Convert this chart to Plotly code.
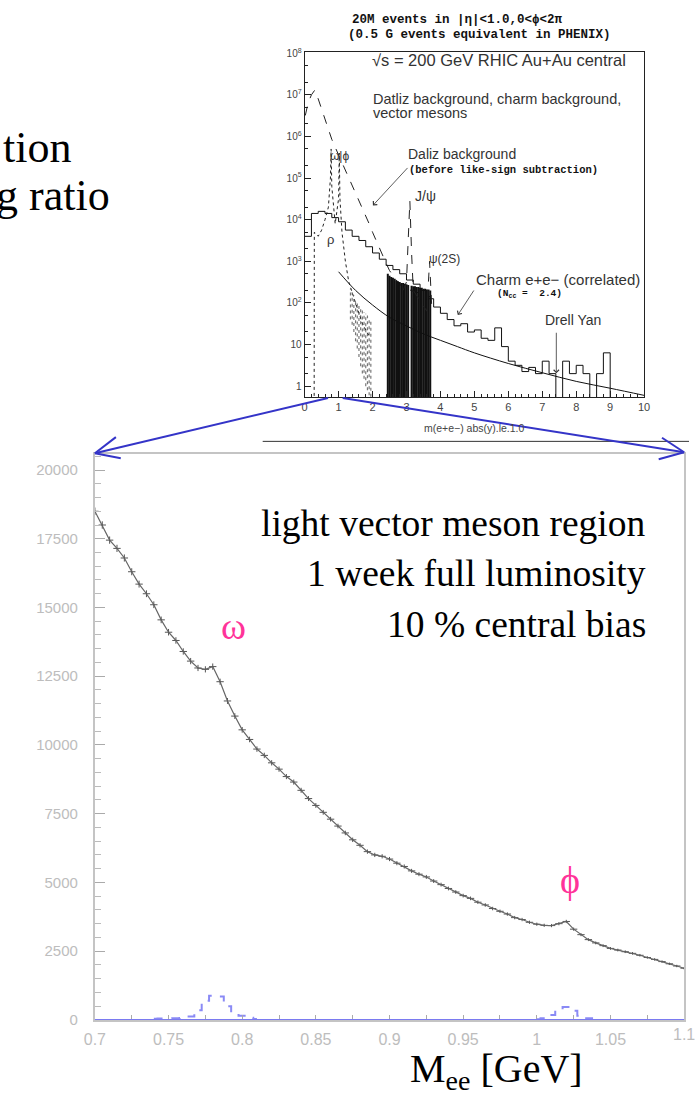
import math
import plotly.graph_objects as go

W, H = 695, 1097
def px(x): return x / W
def py(y): return 1 - y / H

# ---------------- main panel data (light vector meson region) ----------------
mass = [0.700, 0.705, 0.710, 0.715, 0.720, 0.725, 0.730, 0.735, 0.740, 0.745,
        0.750, 0.755, 0.760, 0.765, 0.770, 0.775, 0.780, 0.785, 0.790, 0.795,
        0.800, 0.805, 0.810, 0.815, 0.820, 0.825, 0.830, 0.835, 0.840, 0.845,
        0.850, 0.855, 0.860, 0.865, 0.870, 0.875, 0.880, 0.885, 0.890, 0.895,
        0.900, 0.905, 0.910, 0.915, 0.920, 0.925, 0.930, 0.935, 0.940, 0.945,
        0.950, 0.955, 0.960, 0.965, 0.970, 0.975, 0.980, 0.985, 0.990, 0.995,
        1.000, 1.005, 1.010, 1.015, 1.020, 1.025, 1.030, 1.035, 1.040, 1.045,
        1.050, 1.055, 1.060, 1.065, 1.070, 1.075, 1.080, 1.085, 1.090, 1.095, 1.100]
counts = [18500, 18000, 17450, 17150, 16800, 16300, 15850, 15500, 15100, 14550,
          14100, 13800, 13400, 13050, 12800, 12750, 12850, 12300, 11600, 11050,
          10550, 10200, 9850, 9620, 9350, 9120, 8850, 8650, 8350, 8050,
          7800, 7550, 7300, 7050, 6800, 6550, 6350, 6120, 6000, 5950,
          5850, 5700, 5580, 5420, 5300, 5200, 5050, 4920, 4780, 4650,
          4520, 4420, 4280, 4180, 4050, 3950, 3850, 3720, 3650, 3550,
          3480, 3440, 3430, 3500, 3580, 3300, 3100, 2920, 2800, 2700,
          2600, 2540, 2480, 2420, 2350, 2270, 2200, 2120, 2040, 1960, 1880]

omega_x = [0.740, 0.745, 0.750, 0.755, 0.760, 0.765, 0.770, 0.775, 0.780,
           0.785, 0.790, 0.795, 0.800, 0.805, 0.810]
omega_y = [40, 50, 50, 60, 70, 120, 350, 700, 880, 850, 500, 220, 150, 80, 30]
phi_x = [1.000, 1.005, 1.010, 1.015, 1.020, 1.025, 1.030, 1.035, 1.040]
phi_y = [20, 60, 180, 380, 470, 330, 150, 60, 20]

x_tick_vals = [0.7, 0.75, 0.8, 0.85, 0.9, 0.95, 1.0, 1.05, 1.1]
x_tick_text = ["0.7", "0.75", "0.8", "0.85", "0.9", "0.95", "1", "1.05", "1.1"]

# ---------------- inset data (full mass spectrum, log scale) ----------------
dal_x = [0.02, 0.1, 0.2, 0.3, 0.4, 0.5, 0.6, 0.7, 0.8, 0.9, 1.0, 1.1, 1.2, 1.3,
         1.4, 1.5, 1.6, 1.7, 1.8, 1.9, 2.0, 2.1, 2.2, 2.3, 2.4, 2.5, 2.6, 2.7,
         2.8, 2.9, 3.0, 3.1, 3.2, 3.3, 3.4, 3.5, 3.6, 3.7]
dal_y = [3.2e6, 6.3e6, 1.0e7, 1.3e7, 8e6, 4.5e6, 2.5e6, 1.4e6, 8.5e5, 5.5e5,
         3.6e5, 2.4e5, 1.6e5, 1.05e5, 7e4, 4.6e4, 3e4, 2e4, 1.3e4, 8e3, 5e3,
         3.2e3, 2e3, 1.3e3, 900, 600, 450, 350, 280, 240, 220, 200, 190, 180,
         170, 160, 150, 140]

vm_err_x = [1.35, 1.4, 1.45, 1.5, 1.55, 1.6, 1.65, 1.7, 1.75, 1.8, 1.85, 1.9, 1.95]
vm_err_hi = [220, 180, 150, 120, 100, 90, 80, 70, 60, 55, 50, 45, 40]
vm_err_lo = [40, 30, 20, 12, 8, 5, 3, 2, 1.5, 1, 0.8, 0.6, 0.4]

dal_err_x = [2.45, 2.5, 2.55, 2.6, 2.65, 2.7, 2.75, 2.8, 2.85, 2.9, 2.95, 3.0, 3.05,
             3.15, 3.2, 3.25, 3.3, 3.35, 3.4, 3.45, 3.5, 3.55, 3.6, 3.65, 3.7]
dal_err_hi = [500, 450, 420, 400, 380, 350, 330, 320, 300, 300, 290, 280, 270,
              260, 250, 250, 240, 240, 230, 230, 220, 220, 210, 210, 200]
dal_err_lo = [0.3] * len(dal_err_x)

charm_x = [0.0, 0.2, 0.4, 0.6, 0.8, 1.0, 1.2, 1.4, 1.6, 1.8, 2.0, 2.2, 2.4, 2.6,
           2.8, 3.0, 3.2, 3.4, 3.6, 3.8, 4.0, 4.2, 4.4, 4.6, 4.8, 5.0, 5.2, 5.4,
           5.6, 5.8, 6.0, 6.2, 6.4, 6.6, 6.8, 7.0, 7.2, 7.4, 7.6, 7.8, 8.0, 8.2,
           8.4, 8.6, 8.8, 9.0]
charm_logy = [3.6, 4.15, 4.2, 4.15, 4.05, 3.95, 3.75, 3.6, 3.5, 3.35, 3.2, 3.05,
              2.9, 2.8, 2.7, 2.55, 2.45, 2.3, 2.1, 1.9, 1.75, 1.6, 1.45, 1.5,
              1.3, 1.35, 1.15, 1.1, 1.4, 0.95, 0.6, 0.5, 0.35, 0.45, 0.3, 0.6,
              0.3, -0.5, 0.6, 0.3, 0.5, 0.3, -0.5, 0.3, 0.8, -0.5]
charm_y = [10 ** v for v in charm_logy]

dy_x = [1.0, 1.5, 2.0, 2.5, 3.0, 3.5, 4.0, 4.5, 5.0, 6.0, 7.0, 8.0, 9.0, 10.0]
dy_y = [560, 200, 89, 45, 28, 18, 12.6, 8.9, 6.3, 3.5, 2.1, 1.3, 0.89, 0.6]

vm_x = [0.28, 0.285, 0.4, 0.5, 0.6, 0.7, 0.76, 0.78, 0.80, 0.9, 1.0, 1.02, 1.04,
        1.1, 1.2, 1.3, 1.5, 1.7, 1.9]
vm_y = [0.3, 5000, 4000, 5600, 1e4, 2e4, 1e5, 5e5, 6.3e4, 8e3, 3.2e4, 4e5,
        3.2e4, 5000, 1000, 320, 100, 32, 16]

psi_x = [2.9, 3.0, 3.05, 3.1, 3.15, 3.2, 3.6, 3.68, 3.75]
psi_y = [200, 320, 3200, 2.8e4, 1600, 200, 63, 1000, 63]

fig = go.Figure()

def segments(xs, los, his):
    sx, sy = [], []
    for xx, lo, hi in zip(xs, los, his):
        sx += [xx, xx, None]
        sy += [lo, hi, None]
    return sx, sy

# inset traces
fig.add_trace(go.Scatter(x=dal_x, y=dal_y, mode="lines", xaxis="x", yaxis="y",
                         line=dict(color="#222", width=1, dash="dash"), showlegend=False))
sx, sy = segments(vm_err_x, vm_err_lo, vm_err_hi)
fig.add_trace(go.Scatter(x=sx, y=sy, mode="lines", xaxis="x", yaxis="y",
                         line=dict(color="#777", width=1.2, dash="dot"), showlegend=False))
sx, sy = segments(dal_err_x, dal_err_lo, dal_err_hi)
fig.add_trace(go.Scatter(x=sx, y=sy, mode="lines", xaxis="x", yaxis="y",
                         line=dict(color="#111", width=2), showlegend=False))
fig.add_trace(go.Scatter(x=charm_x, y=charm_y, mode="lines", line_shape="hv",
                         xaxis="x", yaxis="y", line=dict(color="#111", width=1),
                         showlegend=False))
fig.add_trace(go.Scatter(x=dy_x, y=dy_y, mode="lines", line_shape="spline",
                         xaxis="x", yaxis="y", line=dict(color="#111", width=1),
                         showlegend=False))
fig.add_trace(go.Scatter(x=vm_x, y=vm_y, mode="lines", xaxis="x", yaxis="y",
                         line=dict(color="#222", width=1, dash="dot"), showlegend=False))
fig.add_trace(go.Scatter(x=psi_x, y=psi_y, mode="lines", xaxis="x", yaxis="y",
                         line=dict(color="#222", width=1, dash="dash"), showlegend=False))

# main traces
fig.add_trace(go.Scatter(x=mass, y=counts, mode="lines+markers", xaxis="x2", yaxis="y2",
                         line=dict(color="#666", width=1.2),
                         marker=dict(size=1, color="#555"),
                         error_y=dict(type="sqrt", color="#555", thickness=1, width=0),
                         error_x=dict(type="constant", value=0.0025, color="#555",
                                      thickness=1, width=0),
                         showlegend=False))
for ssx, ssy in ((omega_x, omega_y), (phi_x, phi_y)):
    fig.add_trace(go.Scatter(x=ssx, y=ssy, mode="lines", line_shape="hvh",
                             xaxis="x2", yaxis="y2",
                             line=dict(color="#8a8af5", width=2, dash="dash"),
                             showlegend=False))

# ---------------- layout ----------------
inset_font = dict(family="Liberation Sans", size=11, color="#444")
log_vals = [1, 10, 100, 1e3, 1e4, 1e5, 1e6, 1e7, 1e8]
log_text = ["1", "10", "10<sup>2</sup>", "10<sup>3</sup>", "10<sup>4</sup>",
            "10<sup>5</sup>", "10<sup>6</sup>", "10<sup>7</sup>", "10<sup>8</sup>"]

fig.update_layout(
    width=W, height=H, margin=dict(l=0, r=0, t=0, b=0),
    paper_bgcolor="white", plot_bgcolor="white",
    xaxis=dict(domain=[px(301), px(649)], anchor="y", range=[0, 10], dtick=1,
               showgrid=False, zeroline=False, showline=True, mirror=True,
               linecolor="#222", linewidth=1, ticks="inside", ticklen=6,
               tickcolor="#222", tickfont=inset_font,
               minor=dict(dtick=0.2, ticks="inside", ticklen=3, tickcolor="#222")),
    yaxis=dict(domain=[py(396), py(47)], anchor="x", type="log", range=[-0.26, 8.02],
               tickvals=log_vals, ticktext=log_text,
               showgrid=False, zeroline=False, showline=True, mirror=True,
               linecolor="#222", linewidth=1, ticks="inside", ticklen=6,
               tickcolor="#222", tickfont=dict(family="Liberation Sans", size=10, color="#444"),
               minor=dict(ticks="inside", ticklen=3, tickcolor="#222")),
    xaxis2=dict(domain=[px(86), px(690)], anchor="y2", range=[0.7, 1.1],
                tickvals=x_tick_vals[:-1], ticktext=x_tick_text[:-1],
                showgrid=False, zeroline=False, showline=True, mirror=True,
                linecolor="#c4c4c4", linewidth=2, ticks="inside", ticklen=5,
                tickcolor="#aaa", ticklabelstandoff=4,
                tickfont=dict(family="Liberation Sans", size=16, color="#bdbdbd"),
                minor=dict(dtick=0.025, ticks="inside", ticklen=5, tickcolor="#aaa")),
    yaxis2=dict(domain=[py(1027), py(454)], anchor="x2", range=[0, 20575], dtick=2500,
                tickformat="d", showgrid=False, zeroline=False, showline=True, mirror=True,
                linecolor="#c4c4c4", linewidth=2, ticks="inside", ticklen=10,
                tickcolor="#aaa", ticklabelstandoff=12,
                tickfont=dict(family="Liberation Sans", size=15, color="#bdbdbd"),
                minor=dict(dtick=500, ticks="inside", ticklen=6, tickcolor="#bbb")),
)

# blue zero line of the main panel
shapes = [dict(type="line", xref="x2 domain", x0=0, x1=1, yref="y2", y0=0, y1=0,
               line=dict(color="#7a7af0", width=2))]

# separator line
shapes.append(dict(type="line", xref="paper", yref="paper", x0=px(258), x1=px(695),
                   y0=py(441), y1=py(441), line=dict(color="#333", width=1)))

# blue zoom lines with open arrow heads
def zoom_arrow(tip, tail, length=27, ang=24):
    out = [dict(type="line", xref="paper", yref="paper", x0=px(tail[0]), y0=py(tail[1]),
                x1=px(tip[0]), y1=py(tip[1]), line=dict(color="#3434c8", width=2))]
    dx, dy = tail[0] - tip[0], tail[1] - tip[1]
    a0 = math.atan2(dy, dx)
    for s in (-1, 1):
        a = a0 + s * math.radians(ang)
        ex, ey = tip[0] + length * math.cos(a), tip[1] + length * math.sin(a)
        out.append(dict(type="line", xref="paper", yref="paper", x0=px(tip[0]), y0=py(tip[1]),
                        x1=px(ex), y1=py(ey), line=dict(color="#3434c8", width=2)))
    return out

shapes += zoom_arrow((86, 453), (325, 397))
shapes += zoom_arrow((690, 452), (340, 397))
fig.update_layout(shapes=shapes)

ann = []
def txt(x, y, s, size, family="Liberation Sans", color="#333", xa="left", ya="middle"):
    ann.append(dict(x=px(x), y=py(y), xref="paper", yref="paper", text=s, showarrow=False,
                    xanchor=xa, yanchor=ya, borderpad=0,
                    font=dict(family=family, size=size, color=color)))

mono = "Liberation Mono"
# inset title
txt(458, 14, "<b>20M events in |η|&lt;1.0,0&lt;ϕ&lt;2π</b>", 12.5, mono, "#111", "center")
txt(480, 29, "<b>(0.5 G events equivalent in PHENIX)</b>", 12.5, mono, "#111", "center")
# inset labels
txt(369, 55, "√s = 200 GeV RHIC Au+Au central", 16.5)
txt(370, 94, "Datliz background, charm background,", 14.5)
txt(370, 108, "vector mesons", 14.5)
txt(406, 150, "Daliz background", 14)
txt(407, 166, "<b>(before like-sign subtraction)</b>", 10.5, mono, "#111")
txt(413, 192, "J/ψ", 14)
txt(427, 256, "ψ(2S)", 12)
txt(326, 152, "ω|ϕ", 12)
txt(323, 237, "ρ", 13)
txt(476, 277, "Charm e+e− (correlated)", 15)
txt(497, 292, "<b>(N<sub>cc</sub> =  2.4)</b>", 9.5, mono, "#111")
txt(546, 318, "Drell Yan", 14)
txt(475, 427, "m(e+e−) abs(y).le.1.0", 10.5, "Liberation Sans", "#444", "center")

# inset arrows
def arr(tip, tail):
    ann.append(dict(x=px(tip[0]), y=py(tip[1]), xref="paper", yref="paper", text="",
                    showarrow=True, ax=tail[0] - tip[0], ay=tail[1] - tip[1],
                    arrowhead=4, arrowsize=1.3, arrowwidth=0.8, arrowcolor="#333"))
arr((371, 202), (407, 163))
arr((458, 313), (475, 287))
arr((559, 372), (559, 330))

# last x tick label of the main panel, cut by the page edge like in the slide
ann.append(dict(x=x_tick_vals[-1], y=0, xref="x2", yref="y2", text=x_tick_text[-1],
                showarrow=False, xanchor="center", yanchor="top", yshift=-4,
                font=dict(family="Liberation Sans", size=16, color="#bdbdbd")))

# main panel texts
serif = "Liberation Serif"
txt(652, 524, "light vector meson region", 37.5, serif, "#000", "right")
txt(652, 575, "1 week full luminosity", 37.5, serif, "#000", "right")
txt(652, 626, "10 % central bias", 37.5, serif, "#000", "right")
txt(228, 628, "ω", 38, serif, "#ff3399", "center")
txt(573, 885, "ϕ", 38, serif, "#ff3399", "center")
txt(408, 1079, "M<sub>ee</sub> [GeV]", 40, serif, "#000", "left")

# slide text cut at the left edge
txt(-9, 143, "tion", 44, serif, "#000", "left")
txt(-16, 192, "g ratio", 44, serif, "#000", "left")

fig.update_layout(annotations=ann)
fig.write_html("out.html")
